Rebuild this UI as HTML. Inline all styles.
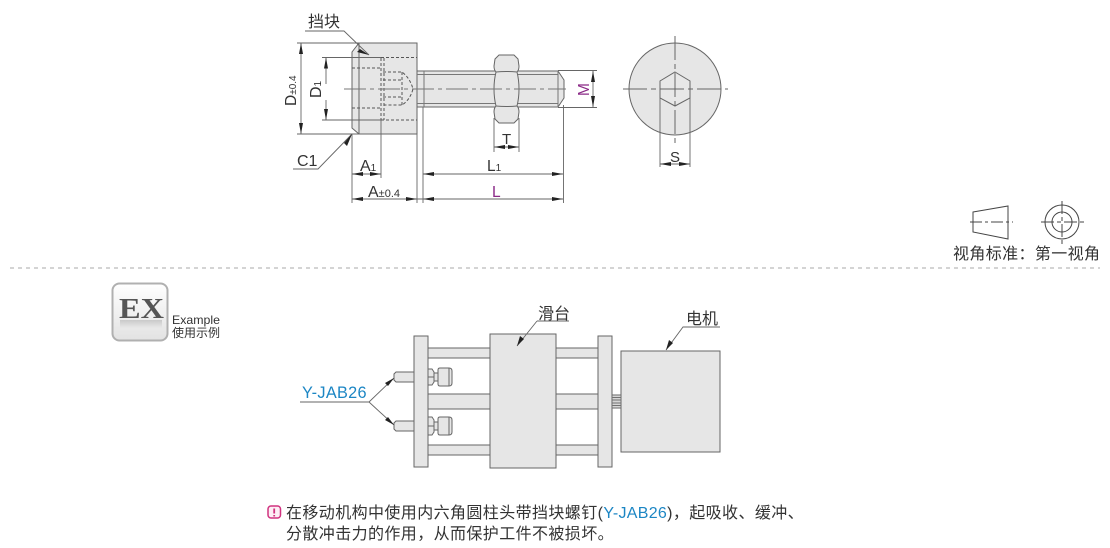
<!DOCTYPE html>
<html><head><meta charset="utf-8"><style>
html,body{margin:0;padding:0;background:#fff}
svg{display:block}
text{font-family:"Liberation Sans","Noto Sans CJK SC",sans-serif;fill:#333}
</style></head><body>
<svg width="1110" height="548" viewBox="0 0 1110 548" xmlns="http://www.w3.org/2000/svg">
<defs><linearGradient id="g" x1="0" y1="0" x2="0" y2="1"><stop offset="0" stop-color="#fff"/><stop offset="1" stop-color="#e2e2e2"/></linearGradient>
<linearGradient id="r" x1="0" y1="0" x2="0" y2="1"><stop offset="0" stop-color="#888" stop-opacity=".35"/><stop offset="1" stop-color="#888" stop-opacity="0"/></linearGradient></defs>

<!-- top: screw -->
<g stroke="#666" stroke-width="1" fill="#e6e6e6">
<path d="M352 52L359 43H417V134H359L352 128Z"/>
<path d="M417 71H558L564 80V98L558 107H417Z"/>
<path d="M424 71V107M417 74.5H558M417 103.5H558M558 71V107" fill="none" stroke="#777"/>
<path d="M359 43V134" fill="none"/>
<path d="M499 55H514L518 59L519 66Q519 70 517 72Q519 80 519 89Q519 98 517 106Q519 108 519 112L518 119L514 123H499L495 119L494 112Q494 108 496 106Q494 98 494 89Q494 80 496 72Q494 70 494 66L495 59Z"/>
<path d="M496 72Q506 71 517 72M496 106Q506 107 517 106" fill="none"/>
</g>
<g fill="none" stroke="#555" stroke-width="1" stroke-dasharray="3 2">
<path d="M381 57.5H417M381 120H417M352 68H381M352 108H381M381 58V120M384 58V120"/>
<path d="M383 72H402Q410 78 413 89Q410 100 402 105H383M383 80H402M383 97H402M402 72V105"/>
</g>
<path d="M344 89H566" stroke="#777" stroke-width="1" stroke-dasharray="22 4 4 4" fill="none"/>

<!-- dimension lines -->
<g stroke="#666" stroke-width=".9" fill="none">
<path d="M297 43H359M322 57.5H381M322 120H381M297 134H359"/>
<path d="M301 43V134M326 57.5V84M326 100V120"/>
<path d="M352 134V203M381 120V178M417 134V203M423 107V203M563.5 105V203"/>
<path d="M352 174H381M352 199H417M417 199H423M423 174H563M423 199H563"/>
<path d="M494 118V152M519 118V152M494 147H519"/>
<path d="M558 70.5H597M558 107.5H597M593 71V107"/>
<path d="M305 31H344L369 55M293 169H318L352 134"/>
</g>
<g fill="#222">
<path d="M301 43l-2 11h4zM301 134l-2-11h4zM326 57.5l-2 11h4zM326 120l-2-11h4z"/>
<path d="M352 174l11-2v4zM381 174l-11-2v4zM352 199l11-2v4zM417 199l-11-2v4zM423 199l11-2v4zM563 199l-11-2v4zM423 174l11-2v4zM563 174l-11-2v4z"/>
<path d="M494 147l11-2v4zM519 147l-11-2v4z"/>
<path d="M593 71l-2 11h4zM593 107l-2-11h4z"/>
<path d="M369 55l-9-6-3 3zM352 134l-8 9 3 3z"/>
</g>
<text x="308" y="27" font-size="16">挡块</text>
<text x="297" y="166" font-size="16">C1</text>
<text transform="translate(296 106) rotate(-90)" font-size="15.500">D<tspan font-size="10">±0.4</tspan></text>
<text transform="translate(321 98) rotate(-90)" font-size="16">D<tspan font-size="10">1</tspan></text>
<text x="360" y="171" font-size="16">A<tspan font-size="10">1</tspan></text>
<text x="368" y="197" font-size="16">A<tspan font-size="11">±0.4</tspan></text>
<text x="487" y="171" font-size="15.500">L<tspan font-size="10">1</tspan></text>
<text x="492" y="197" font-size="15.500" style="fill:#8b2a87">L</text>
<text x="502" y="144" font-size="15">T</text>
<text transform="translate(589 96) rotate(-90)" font-size="15.500" style="fill:#8b2a87">M</text>

<!-- top: end view -->
<circle cx="675" cy="89" r="46" fill="#e6e6e6" stroke="#666"/>
<path d="M675 72L690 81V98L675 106L660 98V81Z" fill="#e8e8e8" stroke="#666"/>
<path d="M623 89H728M675 36V143" stroke="#666" stroke-dasharray="24 4 5 4" fill="none"/>
<path d="M660 98V167M690 98V167M660 164H690" stroke="#666" stroke-width=".9" fill="none"/>
<path d="M660 164l11-2v4zM690 164l-11-2v4z" fill="#222"/>
<text x="670" y="162" font-size="15">S</text>

<!-- view symbol -->
<g stroke="#444" stroke-width="1" fill="none">
<path d="M973 212L1008 206V239L973 232Z"/>
<path d="M970 222H1013" stroke-dasharray="12 3 3 3"/>
<circle cx="1062" cy="222" r="17"/><circle cx="1062" cy="222" r="10"/>
<path d="M1041 222H1085M1062 201V244" stroke-dasharray="13 3 4 3"/>
</g>
<text x="953" y="259" font-size="16" textLength="147" lengthAdjust="spacing">视角标准&#xFF1A;第一视角</text>
<path d="M10 268H1100" stroke="#aaa" stroke-dasharray="4 4" fill="none"/>

<!-- EX badge -->
<rect x="112.500" y="283.500" width="55" height="57" rx="7" fill="url(#g)" stroke="#b0b0b0" stroke-width="2"/>
<text x="119" y="318" font-size="28" font-weight="bold" style="font-family:'Liberation Serif',serif;fill:#555" textLength="45" lengthAdjust="spacingAndGlyphs">EX</text>
<rect x="120" y="320" width="42" height="8" fill="url(#r)"/>
<text x="172" y="324" font-size="12" textLength="48" lengthAdjust="spacingAndGlyphs">Example</text>
<text x="172" y="337" font-size="12">使用示例</text>

<!-- example assembly -->
<g stroke="#666" stroke-width="1" fill="#e6e6e6">
<rect x="428" y="348" width="62" height="10"/><rect x="556" y="348" width="42" height="10"/>
<rect x="428" y="394" width="62" height="15"/><rect x="556" y="394" width="42" height="15"/>
<rect x="428" y="445" width="62" height="10"/><rect x="556" y="445" width="42" height="10"/>
<rect x="414" y="336" width="14" height="131"/>
<rect x="598" y="336" width="14" height="131"/>
<rect x="490" y="334" width="66" height="134"/>
<rect x="621" y="351" width="99" height="101"/>
<path d="M396 372H414V382H396L394 380V374Z"/><path d="M396 421H414V431H396L394 429V423Z"/>
<path d="M428 369H432L434 372V382L432 385H428ZM434 373H438V381H434ZM438 370Q438 368 440 368H449Q452 368 452 371V383Q452 386 449 386H440Q438 386 438 384Z"/>
<path d="M428 417H432L434 420V432L432 435H428ZM434 422H438V430H434ZM438 419Q438 417 440 417H449Q452 417 452 420V432Q452 435 449 435H440Q438 435 438 433Z"/>
<path d="M428 377H434M428 426H434M449 368V386M449 417V435" fill="none"/>
</g>
<path d="M612 395H621M612 397.500H621M612 400H621M612 403H621M612 405.500H621M612 408H621" stroke="#666" fill="none"/>
<rect x="612" y="395" width="9" height="13" fill="#888" opacity=".35"/>

<!-- leaders -->
<path d="M300 402H369L394 378M369 402L394 425M537 321L517 346M720 327H683L666 350" fill="none" stroke="#666" stroke-width=".9"/>
<path d="M394 378l-9 5 3 3zM394 425l-9-5 3-3zM517 346l3-10 4 3zM666 350l3-10 4 3z" fill="#222"/>
<path d="M537 321H569" stroke="#666" stroke-width=".9"/>
<text x="302" y="398" font-size="16.300" style="fill:#1c86c4;letter-spacing:.3px">Y-JAB26</text>
<text x="538" y="319" font-size="16">滑台</text>
<text x="686" y="324" font-size="16">电机</text>

<!-- note -->
<rect x="268" y="506" width="12.500" height="12" rx="3" fill="#fdeef5" stroke="#d0327f" stroke-width="1.500"/>
<path d="M274.200 508.500V513.500M274.200 515V516.500" stroke="#d0327f" stroke-width="1.800"/>
<text x="286" y="518" font-size="16" style="letter-spacing:.4px">在移动机构中使用内六角圆柱头带挡块螺钉(<tspan style="fill:#1c86c4;letter-spacing:.3px">Y-JAB26</tspan>)&#xFF0C;起吸收、缓冲、</text>
<text x="286" y="539" font-size="16" style="letter-spacing:.4px">分散冲击力的作用&#xFF0C;从而保护工件不被损坏。</text>
</svg>
</body></html>
